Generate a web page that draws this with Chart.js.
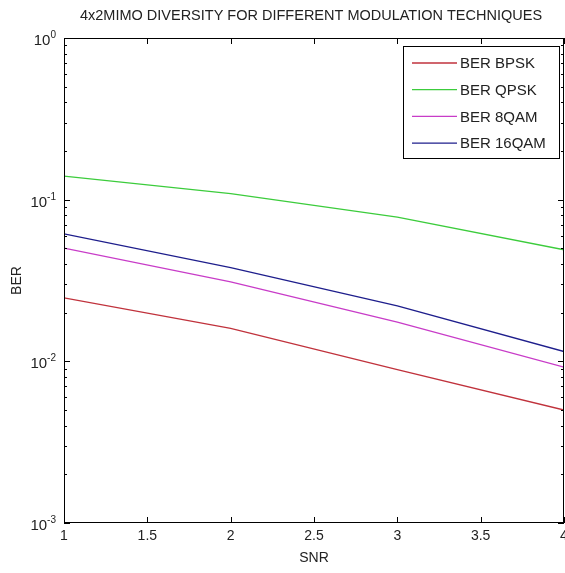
<!DOCTYPE html>
<html>
<head>
<meta charset="utf-8">
<script src="https://cdn.jsdelivr.net/npm/chart.js@4/dist/chart.umd.min.js"></script>
<style>
html, body { margin: 0; padding: 0; background: #fff; }
</style>
</head>
<body>
<canvas id="berChart" width="565" height="573"></canvas>
<script>
// data
var snr = [1, 2, 3, 4];
var berBpsk = [0.0247, 0.0160, 0.0089, 0.0050];
var berQpsk = [0.140, 0.109, 0.078, 0.049];
var ber8qam = [0.0502, 0.0310, 0.0175, 0.0092];
var ber16qam = [0.0614, 0.0380, 0.0220, 0.0115];
var seriesNames = ['BER BPSK', 'BER QPSK', 'BER 8QAM', 'BER 16QAM'];
var seriesColors = ['#c0323c', '#3ccc3c', '#c83cc8', '#1e1e8c'];
var xTicks = [1, 1.5, 2, 2.5, 3, 3.5, 4];
var yTicks = [0.001, 0.01, 0.1, 1];

var fontFam = '"Liberation Sans", Arial, sans-serif';

function toPoints(vals) {
  return snr.map(function (x, i) { return { x: x, y: vals[i] }; });
}

// frame, inward ticks, y labels, title, legend (matlab look)
var matlabFrame = {
  id: 'matlabFrame',
  afterDraw: function (chart) {
    var ctx = chart.ctx, a = chart.chartArea;
    var xs = chart.scales.x, ys = chart.scales.y;
    ctx.save();
    ctx.strokeStyle = '#000';
    ctx.lineWidth = 1;
    ctx.strokeRect(a.left + 0.5, a.top + 0.5, a.right - a.left - 1, a.bottom - a.top - 1);

    // x ticks top and bottom
    ctx.beginPath();
    xTicks.forEach(function (v) {
      var px = Math.round(xs.getPixelForValue(v)) + 0.5;
      ctx.moveTo(px, a.bottom); ctx.lineTo(px, a.bottom - 6);
      ctx.moveTo(px, a.top); ctx.lineTo(px, a.top + 6);
    });
    // y ticks left and right, minor ones shorter
    for (var d = -3; d < 0; d++) {
      for (var m = 1; m <= 9; m++) {
        var py = Math.round(ys.getPixelForValue(m * Math.pow(10, d))) + 0.5;
        var len = m === 1 ? 6 : 3;
        ctx.moveTo(a.left, py); ctx.lineTo(a.left + len, py);
        ctx.moveTo(a.right, py); ctx.lineTo(a.right - len, py);
      }
    }
    ctx.stroke();

    // y labels 10^n
    ctx.fillStyle = '#222';
    ctx.textBaseline = 'alphabetic';
    yTicks.forEach(function (v) {
      var py = ys.getPixelForValue(v);
      var ex = String(Math.round(Math.log10(v)));
      ctx.font = '10px ' + fontFam;
      var ew = ctx.measureText(ex).width;
      ctx.textAlign = 'left';
      ctx.fillText(ex, 56 - ew, py);
      ctx.font = '15px ' + fontFam;
      ctx.textAlign = 'right';
      ctx.fillText('10', 56 - ew, py + 7);
    });

    // title
    ctx.font = '14.5px ' + fontFam;
    ctx.textAlign = 'center';
    ctx.textBaseline = 'middle';
    ctx.fillText('4x2MIMO DIVERSITY FOR DIFFERENT MODULATION TECHNIQUES', 311, 16);

    // legend box
    var lx = 403, ly = 46, lw = 156, lh = 112;
    ctx.fillStyle = '#fff';
    ctx.fillRect(lx, ly, lw, lh);
    ctx.strokeStyle = '#000';
    ctx.strokeRect(lx + 0.5, ly + 0.5, lw, lh);
    ctx.font = '15px ' + fontFam;
    ctx.textAlign = 'left';
    chart.data.datasets.forEach(function (ds, i) {
      var ry = 63 + i * 26.7;
      ctx.strokeStyle = ds.borderColor;
      ctx.lineWidth = 1.3;
      ctx.beginPath();
      ctx.moveTo(412, ry); ctx.lineTo(457, ry);
      ctx.stroke();
      ctx.fillStyle = '#222';
      ctx.fillText(ds.label, 460, ry + 1);
    });
    ctx.restore();
  }
};

var datasets = [berBpsk, berQpsk, ber8qam, ber16qam].map(function (vals, i) {
  return {
    label: seriesNames[i],
    data: toPoints(vals),
    borderColor: seriesColors[i],
    backgroundColor: seriesColors[i],
    borderWidth: 1.3,
    pointRadius: 0,
    tension: 0,
    fill: false
  };
});

new Chart(document.getElementById('berChart'), {
  type: 'line',
  data: { datasets: datasets },
  options: {
    responsive: false,
    animation: false,
    layout: { padding: { top: 38, right: 1, left: 0, bottom: 0 } },
    plugins: {
      legend: { display: false },
      title: { display: false },
      tooltip: { enabled: false }
    },
    scales: {
      x: {
        type: 'linear',
        min: 1,
        max: 4,
        grid: { display: false, drawTicks: false },
        border: { display: false },
        ticks: {
          stepSize: 0.5,
          autoSkip: false,
          maxRotation: 0,
          padding: 5,
          color: '#222',
          font: { family: fontFam, size: 14 },
          callback: function (v) { return String(v); }
        },
        title: {
          display: true,
          text: 'SNR',
          color: '#222',
          font: { family: fontFam, size: 14 },
          padding: { top: 0, bottom: 6 }
        },
        afterFit: function (scale) {
          scale.height = 50;
          scale.paddingLeft = 0;
          scale.paddingRight = 0;
        }
      },
      y: {
        type: 'logarithmic',
        min: 0.001,
        max: 1,
        grid: { display: false, drawTicks: false },
        border: { display: false },
        ticks: { display: false },
        title: {
          display: true,
          text: 'BER',
          color: '#222',
          font: { family: fontFam, size: 14 },
          padding: { top: 9, bottom: 0 }
        },
        afterFit: function (scale) {
          scale.width = 64;
          scale.paddingTop = 0;
          scale.paddingBottom = 0;
        }
      }
    }
  },
  plugins: [matlabFrame]
});
</script>
</body>
</html>
